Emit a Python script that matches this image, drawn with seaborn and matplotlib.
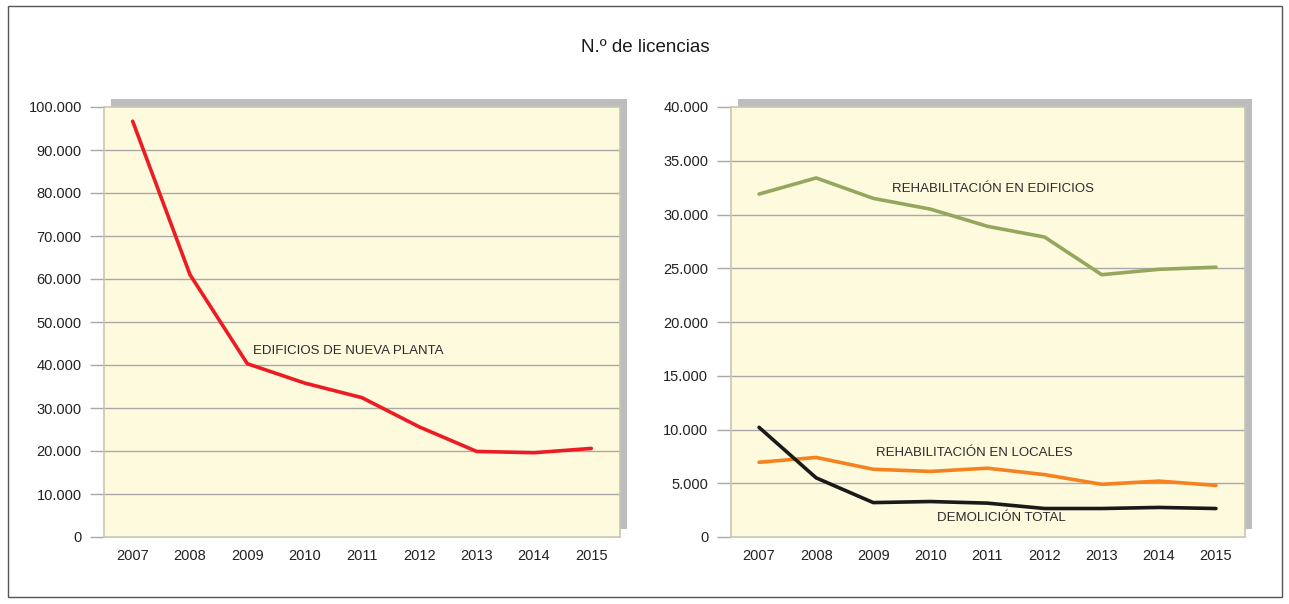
import numpy as np
import pandas as pd
import matplotlib
matplotlib.use("Agg")
import matplotlib.pyplot as plt
import seaborn as sns
from matplotlib.patches import Rectangle
from matplotlib.ticker import FuncFormatter

years = ["2007", "2008", "2009", "2010", "2011", "2012", "2013", "2014", "2015"]
nueva_planta = [96700, 61000, 40300, 35800, 32400, 25600, 19900, 19600, 20600]
rehab_edificios = [31900, 33400, 31500, 30500, 28900, 27900, 24400, 24900, 25100]
rehab_locales = [6950, 7400, 6300, 6100, 6400, 5800, 4900, 5200, 4800]
demolicion = [10200, 5500, 3200, 3300, 3150, 2650, 2650, 2750, 2650]

title = "N.º de licencias"
left_ticks = list(range(0, 100001, 10000))
right_ticks = list(range(0, 40001, 5000))

sns.set_theme(style="white")
plt.rcParams['font.family'] = ['Liberation Sans', 'DejaVu Sans']

W, H = 1289, 604
fig = plt.figure(figsize=(W / 100, H / 100), dpi=100)

# outer border
fig.patches.append(Rectangle((8 / W, 1 - 597 / H), (1282 - 8) / W, (597 - 6) / H,
                             transform=fig.transFigure, fill=False,
                             edgecolor="#555555", linewidth=1.0, zorder=-5))

fig.text(645 / W, 1 - 47 / H, title, ha="center", va="center", fontsize=13.5,
         color="#1a1a1a")

bg = "#FEFADD"
grid_c = "#a8a8a8"
frame_c = "#c9c6b4"
shadow_c = "#bdbdbf"


def fmt(v, pos):
    v = int(round(v))
    if v == 0:
        return "0"
    return f"{v:,}".replace(",", ".")


def make_ax(x0, x1, ticks, ymax):
    y0, y1 = 107, 537
    # shadow
    fig.patches.append(Rectangle(((x0 + 7) / W, 1 - (y1 - 8) / H), (x1 - x0) / W, (y1 - y0) / H,
                                 transform=fig.transFigure, facecolor=shadow_c,
                                 edgecolor="none", zorder=-2))
    ax = fig.add_axes([x0 / W, 1 - y1 / H, (x1 - x0) / W, (y1 - y0) / H])
    ax.set_facecolor(bg)
    ax.set_ylim(0, ymax)
    ax.set_xlim(-0.5, len(years) - 0.5)
    ax.set_yticks(ticks)
    ax.yaxis.set_major_formatter(FuncFormatter(fmt))
    for t in ticks[1:-1]:
        ax.axhline(t, color=grid_c, linewidth=1.0, zorder=1)
    for s in ax.spines.values():
        s.set_color(frame_c)
        s.set_linewidth(1.2)
    ax.tick_params(axis="y", which="major", left=True, length=10, width=1.0,
                   color=grid_c, direction="out", pad=6, labelsize=10.5,
                   labelcolor="#222222")
    ax.tick_params(axis="x", which="major", bottom=False, pad=3, labelsize=10.5,
                   labelcolor="#222222")
    return ax


axL = make_ax(104, 620, left_ticks, 100000)
axR = make_ax(730.5, 1244.5, right_ticks, 40000)

dfL = pd.DataFrame({"year": years, "value": nueva_planta})
sns.lineplot(data=dfL, x="year", y="value", ax=axL, color="#ED1C24", linewidth=2.6,
             zorder=3, sort=False)

for series, col in [(rehab_edificios, "#95A75E"), (rehab_locales, "#F5821F"),
                    (demolicion, "#1a1a1a")]:
    df = pd.DataFrame({"year": years, "value": series})
    sns.lineplot(data=df, x="year", y="value", ax=axR, color=col, linewidth=2.6,
                 zorder=3, sort=False)

for ax in (axL, axR):
    ax.set_xlabel("")
    ax.set_ylabel("")
    ax.set_xlim(-0.5, len(years) - 0.5)

tk = dict(fontsize=9.5, color="#2a2a2a", va="center", ha="left")
axL.text(2.1, 43300, "EDIFICIOS DE NUEVA PLANTA", **tk)
axR.text(2.33, 32400, "REHABILITACIÓN EN EDIFICIOS", **tk)
axR.text(2.05, 7800, "REHABILITACIÓN EN LOCALES", **tk)
axR.text(3.12, 1750, "DEMOLICIÓN TOTAL", **tk)

fig.savefig("out.png", dpi=100, facecolor="white")
